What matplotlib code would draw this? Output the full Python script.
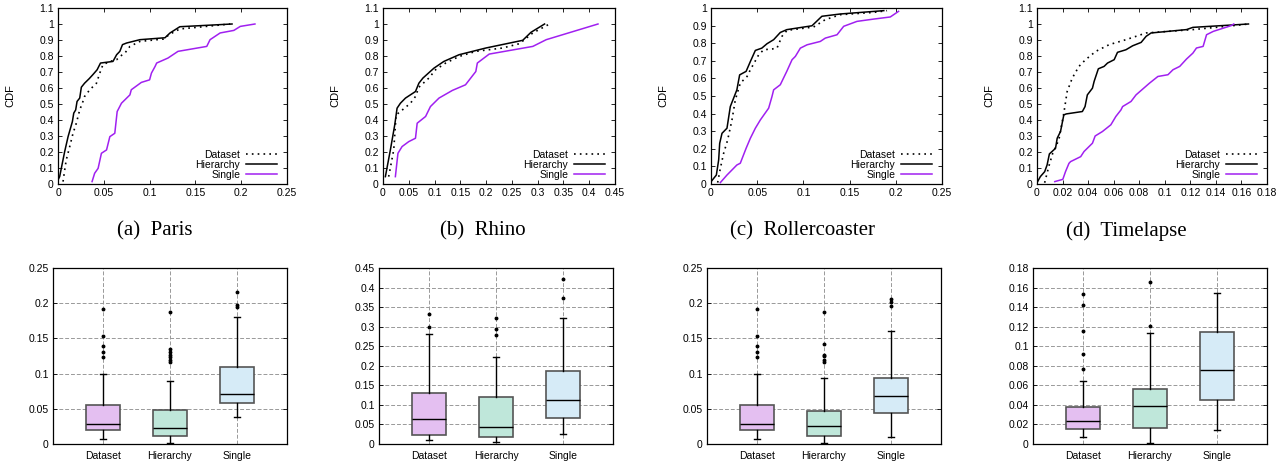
import matplotlib
matplotlib.use("Agg")
import matplotlib.pyplot as plt
from matplotlib.ticker import FuncFormatter

# ==================================================
# DATA: CDF curves (x = error, y = cumulative fraction)
# ==================================================

paris_hier_x = [0, 0.0018, 0.0047, 0.0073, 0.011, 0.0157, 0.0172, 0.0193, 0.0208, 0.0237, 0.0255, 0.029, 0.034, 0.038,
                0.0427, 0.0464, 0.060, 0.062, 0.064, 0.0675, 0.0704, 0.0748, 0.0894, 0.1168, 0.1223, 0.133, 0.19]
paris_hier_y = [0.025, 0.046, 0.129, 0.203, 0.296, 0.39, 0.443, 0.463, 0.516, 0.537, 0.605, 0.63, 0.658, 0.683,
                0.714, 0.756, 0.766, 0.787, 0.808, 0.829, 0.871, 0.881, 0.902, 0.914, 0.944, 0.983, 1.0]
paris_data_x = [0.0055, 0.0073, 0.009, 0.0128, 0.0164, 0.02, 0.0237, 0.0266, 0.029, 0.0347, 0.042, 0.0456, 0.049,
                0.0566, 0.064, 0.0675, 0.073, 0.0785, 0.0894, 0.115, 0.1223, 0.133, 0.155, 0.188]
paris_data_y = [0.015, 0.088, 0.15, 0.234, 0.317, 0.38, 0.463, 0.505, 0.547, 0.589, 0.63, 0.693, 0.745,
                0.766, 0.777, 0.797, 0.818, 0.86, 0.891, 0.906, 0.937, 0.969, 0.981, 1.0]
paris_single_x = [0.0372, 0.040, 0.0438, 0.0474, 0.053, 0.0566, 0.062, 0.0646, 0.0693, 0.0785, 0.080, 0.091, 0.100,
                  0.102, 0.106, 0.1077, 0.120, 0.131, 0.1624, 0.166, 0.177, 0.192, 0.199, 0.215]
paris_single_y = [0.015, 0.067, 0.098, 0.192, 0.213, 0.296, 0.317, 0.453, 0.505, 0.557, 0.589, 0.635, 0.651,
                  0.693, 0.735, 0.756, 0.787, 0.829, 0.86, 0.902, 0.944, 0.96, 0.985, 1.0]

rhino_hier_x = [0.0046, 0.0143, 0.0228, 0.0273, 0.0338, 0.0436, 0.063, 0.0696, 0.0774, 0.0988, 0.118, 0.1476,
                0.1996, 0.271, 0.287, 0.3134]
rhino_hier_y = [0.046, 0.213, 0.37, 0.474, 0.505, 0.537, 0.578, 0.63, 0.662, 0.724, 0.766, 0.808,
                0.85, 0.898, 0.948, 1.0]
rhino_data_x = [0.011, 0.0208, 0.0254, 0.0338, 0.0533, 0.063, 0.0696, 0.089, 0.102, 0.1216, 0.1476, 0.180,
                0.232, 0.2646, 0.2906, 0.323]
rhino_data_y = [0.046, 0.213, 0.432, 0.453, 0.505, 0.547, 0.605, 0.662, 0.714, 0.756, 0.797, 0.829,
                0.85, 0.877, 0.944, 1.0]
rhino_single_x = [0.024, 0.029, 0.037, 0.050, 0.063, 0.0663, 0.0826, 0.092, 0.1086, 0.1346, 0.160, 0.180,
                  0.183, 0.206, 0.2906, 0.3166, 0.417]
rhino_single_y = [0.046, 0.192, 0.234, 0.265, 0.286, 0.38, 0.422, 0.484, 0.537, 0.585, 0.62, 0.703,
                  0.756, 0.812, 0.86, 0.902, 1.0]

roller_hier_x = [0, 0.0058, 0.0083, 0.0094, 0.0119, 0.0173, 0.0209, 0.028, 0.031, 0.038, 0.0426, 0.048, 0.055,
                 0.0606, 0.0678, 0.075, 0.082, 0.1093, 0.120, 0.140, 0.187]
roller_hier_y = [0.013, 0.051, 0.137, 0.231, 0.288, 0.317, 0.44, 0.535, 0.62, 0.64, 0.696, 0.759, 0.772,
                 0.797, 0.82, 0.861, 0.877, 0.899, 0.953, 0.966, 0.985]
roller_data_x = [0.0072, 0.0101, 0.0137, 0.018, 0.0227, 0.0263, 0.0317, 0.039, 0.0426, 0.0516, 0.057, 0.066,
                 0.0714, 0.0768, 0.0823, 0.111, 0.1237, 0.140, 0.176, 0.1905]
roller_data_y = [0.008, 0.089, 0.175, 0.25, 0.364, 0.478, 0.573, 0.611, 0.649, 0.734, 0.763, 0.767,
                 0.772, 0.839, 0.873, 0.892, 0.934, 0.962, 0.975, 0.985]
roller_single_x = [0.0101, 0.0173, 0.028, 0.0317, 0.038, 0.0426, 0.048, 0.0534, 0.0624, 0.066, 0.0678, 0.075,
                   0.082, 0.0877, 0.0913, 0.0967, 0.104, 0.1183, 0.1237, 0.1364, 0.1436, 0.158, 0.176, 0.194, 0.203]
roller_single_y = [0.008, 0.051, 0.108, 0.118, 0.203, 0.26, 0.317, 0.364, 0.431, 0.497, 0.535, 0.564,
                   0.64, 0.706, 0.725, 0.772, 0.791, 0.81, 0.829, 0.848, 0.896, 0.924, 0.937, 0.949, 0.981]

time_hier_x = [0, 0.0026, 0.006, 0.0079, 0.0097, 0.0145, 0.0158, 0.0184, 0.021, 0.0229, 0.0355, 0.0376, 0.0394,
               0.0434, 0.0447, 0.048, 0.0525, 0.0552, 0.0604, 0.063, 0.0696, 0.0749, 0.0815, 0.0854, 0.0893,
               0.117, 0.122, 0.1655]
time_hier_y = [0.008, 0.046, 0.077, 0.119, 0.188, 0.223, 0.286, 0.328, 0.432, 0.438, 0.453, 0.484, 0.557,
               0.599, 0.641, 0.72, 0.735, 0.756, 0.777, 0.823, 0.839, 0.864, 0.885, 0.923, 0.944,
               0.965, 0.979, 1.0]
time_data_x = [0.006, 0.0092, 0.0123, 0.0171, 0.021, 0.0236, 0.0276, 0.0328, 0.038, 0.046, 0.0565, 0.0696,
               0.0854, 0.122, 0.148, 0.1655]
time_data_y = [0.008, 0.109, 0.192, 0.276, 0.443, 0.578, 0.662, 0.735, 0.777, 0.829, 0.871, 0.902,
               0.944, 0.965, 0.985, 1.0]
time_single_x = [0.0139, 0.0202, 0.0223, 0.025, 0.0263, 0.0342, 0.0368, 0.0434, 0.0455, 0.0512, 0.0578, 0.0617,
                 0.0657, 0.067, 0.0736, 0.0775, 0.088, 0.0946, 0.1025, 0.1064, 0.1117, 0.117, 0.122, 0.1248,
                 0.13, 0.1327, 0.138, 0.152, 0.154]
time_single_y = [0.015, 0.029, 0.077, 0.129, 0.14, 0.171, 0.203, 0.255, 0.3, 0.328, 0.37, 0.422,
                 0.463, 0.484, 0.516, 0.557, 0.63, 0.672, 0.683, 0.714, 0.735, 0.781, 0.818, 0.85,
                 0.86, 0.933, 0.954, 0.99, 1.0]

# ==================================================
# DATA: box plot statistics (Dataset, Hierarchy, Single)
# ==================================================

methods = ["Dataset", "Hierarchy", "Single"]
captions = ["(a)  Paris", "(b)  Rhino", "(c)  Rollercoaster", "(d)  Timelapse"]

paris_med = [0.029, 0.0227, 0.071]
paris_q1 = [0.0194, 0.011, 0.058]
paris_q3 = [0.0559, 0.049, 0.109]
paris_lo = [0.0076, 0.001, 0.038]
paris_hi = [0.100, 0.0895, 0.181]
paris_fliers = [[0.192, 0.153, 0.139, 0.131, 0.123],
                [0.188, 0.135, 0.130, 0.127, 0.124, 0.120, 0.116],
                [0.216, 0.198, 0.195]]

rhino_med = [0.063, 0.0435, 0.113]
rhino_q1 = [0.023, 0.019, 0.066]
rhino_q3 = [0.1296, 0.120, 0.186]
rhino_lo = [0.011, 0.005, 0.025]
rhino_hi = [0.280, 0.222, 0.322]
rhino_fliers = [[0.332, 0.298],
                [0.323, 0.293, 0.279],
                [0.422, 0.374]]

roller_med = [0.029, 0.0256, 0.068]
roller_q1 = [0.0194, 0.012, 0.0445]
roller_q3 = [0.0559, 0.047, 0.094]
roller_lo = [0.0076, 0.001, 0.0104]
roller_hi = [0.100, 0.094, 0.1605]
roller_fliers = [[0.192, 0.153, 0.139, 0.131, 0.123],
                 [0.188, 0.1425, 0.127, 0.125, 0.120, 0.116],
                 [0.206, 0.2017, 0.1955]]

time_med = [0.0232, 0.0392, 0.0753]
time_q1 = [0.015, 0.0164, 0.045]
time_q3 = [0.0378, 0.0563, 0.1146]
time_lo = [0.0068, 0.0014, 0.0143]
time_hi = [0.0644, 0.114, 0.1545]
time_fliers = [[0.153, 0.142, 0.116, 0.092, 0.077],
               [0.166, 0.121],
               []]

# ==================================================
# FIGURE SETUP
# ==================================================

plt.rcParams['font.family'] = ['Liberation Sans', 'DejaVu Sans']
fig = plt.figure(figsize=(12.88, 4.65), dpi=100)
W, H = 1288.0, 465.0

#pixel positions of the axes (left, right)
top_lr = [(58, 287), (383, 615), (711, 942), (1037, 1267)]
bot_lr = [(53, 287), (379, 613), (707, 941), (1033, 1267)]
caption_x = [155, 483, 803, 1126]

fmt = FuncFormatter(lambda v, p: "%g" % round(v, 4))
purple = "#a020f0"
box_colors = ["#e4bff1", "#bfe7da", "#d6ebf7"]


def style_ticks(ax):
    ax.tick_params(direction='in', length=3, width=0.6, labelsize=7.5, top=True, right=True, pad=3)
    for s in ax.spines.values():
        s.set_linewidth(0.9)


# ==================================================
# TOP ROW: CDF PLOTS
# ==================================================

cdf_sets = [
    (paris_data_x, paris_data_y, paris_hier_x, paris_hier_y, paris_single_x, paris_single_y, 0.25, 0.05, 1.1),
    (rhino_data_x, rhino_data_y, rhino_hier_x, rhino_hier_y, rhino_single_x, rhino_single_y, 0.45, 0.05, 1.1),
    (roller_data_x, roller_data_y, roller_hier_x, roller_hier_y, roller_single_x, roller_single_y, 0.25, 0.05, 1.0),
    (time_data_x, time_data_y, time_hier_x, time_hier_y, time_single_x, time_single_y, 0.18, 0.02, 1.1),
]

for i, (dx, dy, hx, hy, sx, sy, xmax, xstep, ymax) in enumerate(cdf_sets):
    l, r = top_lr[i]
    ax = fig.add_axes([l / W, 1 - 184 / H, (r - l) / W, 176 / H])
    ax.plot(dx, dy, color='black', lw=1.2, linestyle=(0, (1, 2.5)), label="Dataset")
    ax.plot(hx, hy, color='black', lw=1.1, label="Hierarchy")
    ax.plot(sx, sy, color=purple, lw=1.1, label="Single")
    ax.set_xlim(0, xmax)
    ax.set_ylim(0, ymax)
    n = int(round(xmax / xstep))
    ax.set_xticks([k * xstep for k in range(n + 1)])
    m = int(round(ymax / 0.1))
    ax.set_yticks([k * 0.1 for k in range(m + 1)])
    ax.xaxis.set_major_formatter(fmt)
    ax.yaxis.set_major_formatter(fmt)
    style_ticks(ax)
    ax.set_ylabel("CDF", fontsize=8)
    ax.yaxis.set_label_coords(-43.0 / (r - l), 0.5)
    #legend sits in the lower right corner, text before the line sample
    ax.legend(loc='lower right', bbox_to_anchor=(1 - 6.0 / (r - l), 0.0), frameon=False, markerfirst=False,
              fontsize=7.5, handlelength=3.0, labelspacing=0.0, borderaxespad=0.0, handletextpad=0.5)
    #caption under each cdf
    fig.text(caption_x[i] / W, 1 - 231 / H, captions[i], ha='center', va='center',
             fontsize=15, family='Liberation Serif')

# ==================================================
# BOTTOM ROW: BOX PLOTS
# ==================================================

box_sets = [
    (paris_med, paris_q1, paris_q3, paris_lo, paris_hi, paris_fliers, 0.25, 0.05),
    (rhino_med, rhino_q1, rhino_q3, rhino_lo, rhino_hi, rhino_fliers, 0.45, 0.05),
    (roller_med, roller_q1, roller_q3, roller_lo, roller_hi, roller_fliers, 0.25, 0.05),
    (time_med, time_q1, time_q3, time_lo, time_hi, time_fliers, 0.18, 0.02),
]

for i, (med, q1, q3, lo, hi, fl, ymax, ystep) in enumerate(box_sets):
    l, r = bot_lr[i]
    ax = fig.add_axes([l / W, 1 - 444 / H, (r - l) / W, 176 / H])
    stats = []
    for j in range(3):
        stats.append({'med': med[j], 'q1': q1[j], 'q3': q3[j], 'whislo': lo[j], 'whishi': hi[j],
                      'fliers': fl[j], 'label': methods[j]})
    bp = ax.bxp(stats, positions=[1, 2, 3], widths=0.5, patch_artist=True, capwidths=0.1,
                boxprops=dict(edgecolor='#555555', linewidth=1.2),
                medianprops=dict(color='black', linewidth=1.0),
                whiskerprops=dict(color='black', linewidth=1.0),
                capprops=dict(color='black', linewidth=1.0),
                flierprops=dict(marker='o', markersize=1.8, markerfacecolor='black', markeredgecolor='black'))
    for patch, c in zip(bp['boxes'], box_colors):
        patch.set_facecolor(c)
    ax.set_xlim(0.25, 3.75)
    ax.set_ylim(0, ymax)
    n = int(round(ymax / ystep))
    ax.set_yticks([k * ystep for k in range(n + 1)])
    ax.yaxis.set_major_formatter(fmt)
    ax.grid(True, linestyle=(0, (4, 2)), color='#999999', linewidth=0.7)
    ax.set_axisbelow(True)
    style_ticks(ax)
    ax.tick_params(axis='x', length=0, pad=5)

plt.savefig("out.png", dpi=100)
